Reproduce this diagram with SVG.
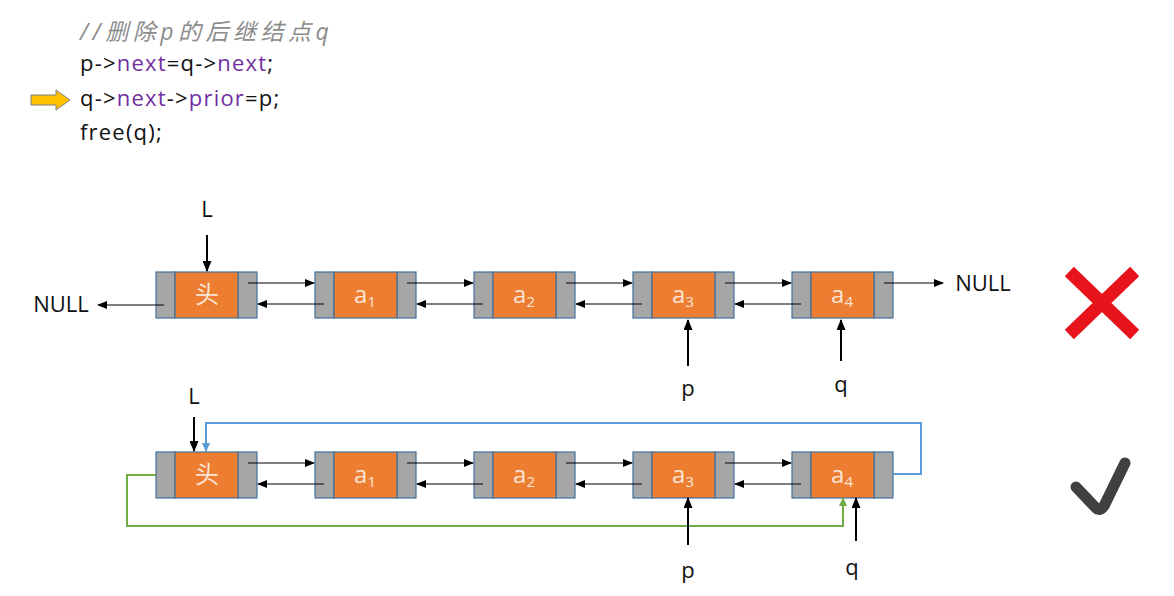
<svg xmlns="http://www.w3.org/2000/svg" width="1174" height="596" viewBox="0 0 1174 596">
<style>
.code{font-family:"Open Sans","Liberation Sans","Noto Sans CJK SC",sans-serif;font-size:22px;letter-spacing:1.2px;fill:#111}
.cmt{font-family:"Open Sans","Noto Sans CJK SC",sans-serif;font-size:23px;letter-spacing:4.5px;fill:#8C8C8C;font-style:italic}
.kw{fill:#7030A0}
.gray{fill:#A6A6A6;stroke:#41719C;stroke-width:1.2}
.orange{fill:#ED7D31;stroke:#41719C;stroke-width:1.2}
.lbl{font-family:"Open Sans","Noto Sans CJK SC",sans-serif;font-size:24px;fill:#FBE5D6;text-anchor:middle}
.sub{font-size:15px}
.ptr{font-family:"Open Sans","Liberation Sans",sans-serif;font-size:22px;fill:#111;text-anchor:middle}
.ln{stroke:#000;stroke-width:1;fill:none;marker-end:url(#ah)}
.lnb{stroke:#000;stroke-width:2;fill:none;marker-end:url(#ahb)}
</style>
<defs>
<marker id="ah" markerWidth="10" markerHeight="8" refX="9" refY="4" orient="auto" markerUnits="userSpaceOnUse"><path d="M0,0 L10,4 L0,8 z" fill="#000"/></marker>
<marker id="ahb" markerWidth="11" markerHeight="9" refX="10" refY="4.5" orient="auto" markerUnits="userSpaceOnUse"><path d="M0,0 L11,4.5 L0,9 z" fill="#000"/></marker>
<marker id="ahblue" markerWidth="9" markerHeight="8" refX="8" refY="4" orient="auto" markerUnits="userSpaceOnUse"><path d="M0,0 L9,4 L0,8 z" fill="#5B9BD5"/></marker>
<marker id="ahgreen" markerWidth="9" markerHeight="8" refX="8" refY="4" orient="auto" markerUnits="userSpaceOnUse"><path d="M0,0 L9,4 L0,8 z" fill="#70AD47"/></marker>
<g id="node">
<rect class="gray" x="0" y="0" width="19" height="46"/>
<rect class="gray" x="82" y="0" width="19" height="46"/>
<rect class="orange" x="19" y="0" width="63" height="46"/>
</g>
</defs>
<rect width="1174" height="596" fill="#fff"/>

<g id="code">
<text class="cmt" x="80" y="40">//删除p的后继结点q</text>
<text class="code" x="80" y="71">p-&gt;<tspan class="kw">next</tspan>=q-&gt;<tspan class="kw">next</tspan>;</text>
<text class="code" x="80" y="106">q-&gt;<tspan class="kw">next</tspan>-&gt;<tspan class="kw">prior</tspan>=p;</text>
<text class="code" x="80" y="140">free(q);</text>
<path d="M31,95 L56,95 L56,90 L70,100 L56,110 L56,105 L31,105 z" fill="#FFC000" stroke="#7F7F7F" stroke-width="1"/>
</g>

<g id="row1">
<g id="h1"><use href="#node" x="156" y="272"/><text class="lbl" x="207" y="303">头</text></g>
<g id="n1a1"><use href="#node" x="315" y="272"/><text class="lbl" x="365" y="303">a<tspan class="sub" dy="4">1</tspan></text></g>
<g id="n1a2"><use href="#node" x="474" y="272"/><text class="lbl" x="524" y="303">a<tspan class="sub" dy="4">2</tspan></text></g>
<g id="n1a3"><use href="#node" x="633" y="272"/><text class="lbl" x="683" y="303">a<tspan class="sub" dy="4">3</tspan></text></g>
<g id="n1a4"><use href="#node" x="792" y="272"/><text class="lbl" x="842" y="303">a<tspan class="sub" dy="4">4</tspan></text></g>
<text class="ptr" x="61" y="312">NULL</text>
<text class="ptr" x="207" y="217">L</text>
<text class="ptr" x="983" y="291">NULL</text>
<text class="ptr" x="688" y="396">p</text>
<text class="ptr" x="841" y="392">q</text>
</g>

<g id="row2">
<g id="h2"><use href="#node" x="156" y="452"/><text class="lbl" x="207" y="483">头</text></g>
<g id="n2a1"><use href="#node" x="315" y="452"/><text class="lbl" x="365" y="483">a<tspan class="sub" dy="4">1</tspan></text></g>
<g id="n2a2"><use href="#node" x="474" y="452"/><text class="lbl" x="524" y="483">a<tspan class="sub" dy="4">2</tspan></text></g>
<g id="n2a3"><use href="#node" x="633" y="452"/><text class="lbl" x="683" y="483">a<tspan class="sub" dy="4">3</tspan></text></g>
<g id="n2a4"><use href="#node" x="792" y="452"/><text class="lbl" x="842" y="483">a<tspan class="sub" dy="4">4</tspan></text></g>
<text class="ptr" x="194" y="404">L</text>
<text class="ptr" x="688" y="578">p</text>
<text class="ptr" x="852" y="575">q</text>
</g>

<g id="connectors">
<!-- row 1 -->
<path class="lnb" d="M207,235 V271"/>
<path class="ln" d="M164,305 H98"/>
<path class="ln" d="M884,283 H943"/>
<path class="ln" d="M248,283 H314"/>
<path class="ln" d="M407,283 H473"/>
<path class="ln" d="M566,283 H632"/>
<path class="ln" d="M725,283 H791"/>
<path class="ln" d="M324,304 H258"/>
<path class="ln" d="M483,304 H417"/>
<path class="ln" d="M642,304 H576"/>
<path class="ln" d="M801,304 H735"/>
<path class="lnb" d="M688,366 V320"/>
<path class="lnb" d="M841,361 V320"/>
<!-- row 2 -->
<path class="lnb" d="M194,417 V451"/>
<path class="ln" d="M248,463 H314"/>
<path class="ln" d="M407,463 H473"/>
<path class="ln" d="M566,463 H632"/>
<path class="ln" d="M725,463 H791"/>
<path class="ln" d="M324,484 H258"/>
<path class="ln" d="M483,484 H417"/>
<path class="ln" d="M642,484 H576"/>
<path class="ln" d="M801,484 H735"/>
<path d="M893,474 H921 V423 H206 V451" fill="none" stroke="#5B9BD5" stroke-width="2" marker-end="url(#ahblue)"/>
<path d="M156,475 H127 V526 H843 V498" fill="none" stroke="#70AD47" stroke-width="2" marker-end="url(#ahgreen)"/>
<path class="lnb" d="M688,545 V498"/>
<path class="lnb" d="M856,541 V498"/>
</g>

<g id="marks">
<path d="M1074,276 L1130,330 M1130,276 L1074,330" stroke="#E8141B" stroke-width="13" stroke-linecap="square"/>
<path d="M1076,487 L1096,508 Q1100,512 1104,506 L1125,463" stroke="#404040" stroke-width="11" stroke-linecap="round" stroke-linejoin="round" fill="none"/>
</g>
</svg>
